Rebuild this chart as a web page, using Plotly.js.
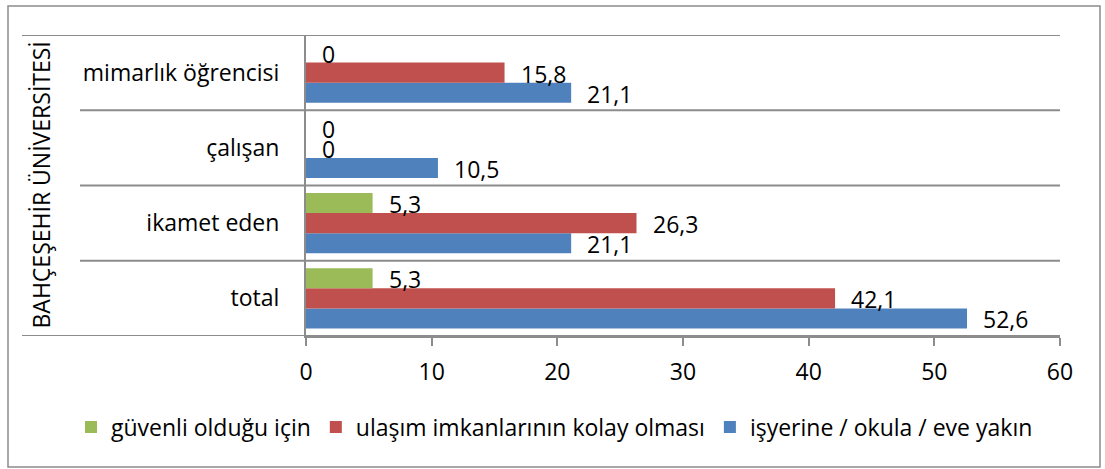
<!DOCTYPE html>
<html>
<head>
<meta charset="utf-8">
<script src="https://cdn.plot.ly/plotly-3.0.1.min.js"></script>
<style>html,body{margin:0;padding:0;background:#fff;}#chart{width:1105px;height:469px;}</style>
</head>
<body>
<div id="chart"></div>
<script>
// Categories, bottom to top
const categories = ["total", "ikamet eden", "çalışan", "mimarlık öğrencisi"];
const groupTitle = "BAHÇEŞEHİR ÜNİVERSİTESİ";
const seriesNames = ["güvenli olduğu için", "ulaşım imkanlarının kolay olması", "işyerine / okula / eve yakın"];
const guvenli = [5.3, 5.3, 0, 0];
const ulasim = [42.1, 26.3, 0, 15.8];
const yakin = [52.6, 21.1, 10.5, 21.1];
const xTicks = [0, 10, 20, 30, 40, 50, 60];

const colors = {guvenli: "#9BBB59", ulasim: "#C0504D", yakin: "#4F81BD"};
const FONT = "'Open Sans', sans-serif";
const FS = 23;
const fmt = v => String(v).replace(".", ",");

// pixel geometry of plot area
const W = 1105, H = 469, L = 306, R = 45, T = 35, B = 133;
const pw = W - L - R, ph = H - T - B;
const px = x => (x - L) / pw;
const py = y => 1 - (y - T) / ph;

const traces = [
  {name: seriesNames[2], data: yakin, color: colors.yakin},
  {name: seriesNames[1], data: ulasim, color: colors.ulasim},
  {name: seriesNames[0], data: guvenli, color: colors.guvenli}
].map(s => ({
  type: "bar", orientation: "h", name: s.name,
  x: s.data, y: categories,
  marker: {color: s.color},
  hoverinfo: "x+name"
}));

// value labels
const bandPx = ph / categories.length;
const barPx = bandPx * 0.8 / 3;
const annotations = [];
[[yakin, -barPx], [ulasim, 0], [guvenli, barPx]].forEach(([arr, off]) => {
  arr.forEach((v, i) => {
    annotations.push({
      x: v, y: categories[i], xref: "x", yref: "y",
      text: fmt(v), showarrow: false, xanchor: "left", yanchor: "middle",
      xshift: 14, yshift: off - 1,
      font: {family: FONT, size: FS, color: "#000"}
    });
  });
});
annotations.push({
  x: px(40), y: 0.5, xref: "paper", yref: "paper",
  text: groupTitle, textangle: -90, showarrow: false,
  xanchor: "center", yanchor: "middle",
  font: {family: FONT, size: FS, color: "#000"}
});

const grayLine = {color: "#8c8c8c", width: 2};
const shapes = [
  // outer border
  {type: "rect", xref: "paper", yref: "paper", x0: px(8), x1: px(1100), y0: py(6), y1: py(467),
   line: {color: "#8c8c8c", width: 1.5}, layer: "below"},
  // outer top/bottom dividers
  {type: "line", xref: "paper", yref: "y", x0: px(22), x1: 1, y0: categories.length - 0.5, y1: categories.length - 0.5, line: grayLine},
  {type: "line", xref: "paper", yref: "y", x0: px(22), x1: 1, y0: -0.5, y1: -0.5, line: grayLine}
];
for (let i = 0; i < categories.length - 1; i++) {
  shapes.push({type: "line", xref: "paper", yref: "y", x0: px(80), x1: 1, y0: i + 0.5, y1: i + 0.5, line: grayLine});
}

const layout = {
  width: W, height: H,
  margin: {l: L, r: R, t: T, b: B, pad: 0, autoexpand: false},
  paper_bgcolor: "#fff", plot_bgcolor: "#fff",
  font: {family: FONT, size: FS, color: "#000"},
  barmode: "group", bargap: 0.2, bargroupgap: 0,
  showlegend: true,
  legend: {orientation: "h", x: px(71), xref: "paper", xanchor: "left", y: py(427), yanchor: "middle",
           traceorder: "reversed", font: {family: FONT, size: FS, color: "#000"}, itemwidth: 30,
           bgcolor: "rgba(0,0,0,0)"},
  xaxis: {range: [0, 60], tickvals: xTicks, ticktext: xTicks.map(String), showgrid: false, zeroline: false,
          showline: true, linecolor: "#8c8c8c", linewidth: 2, automargin: false,
          ticks: "outside", ticklen: 8, tickwidth: 2, tickcolor: "#8c8c8c", ticklabelstandoff: 6,
          tickfont: {family: FONT, size: FS, color: "#000"}, fixedrange: true},
  yaxis: {type: "category", categoryorder: "array", categoryarray: categories, range: [-0.5, categories.length - 0.5],
          showgrid: false, zeroline: false, showline: true, linecolor: "#8c8c8c", linewidth: 2, automargin: false,
          ticks: "", ticklabelstandoff: 20,
          tickfont: {family: FONT, size: FS, color: "#000"}, fixedrange: true},
  shapes: shapes,
  annotations: annotations
};

Plotly.newPlot("chart", traces, layout, {displayModeBar: false, staticPlot: true});
</script>
</body>
</html>
